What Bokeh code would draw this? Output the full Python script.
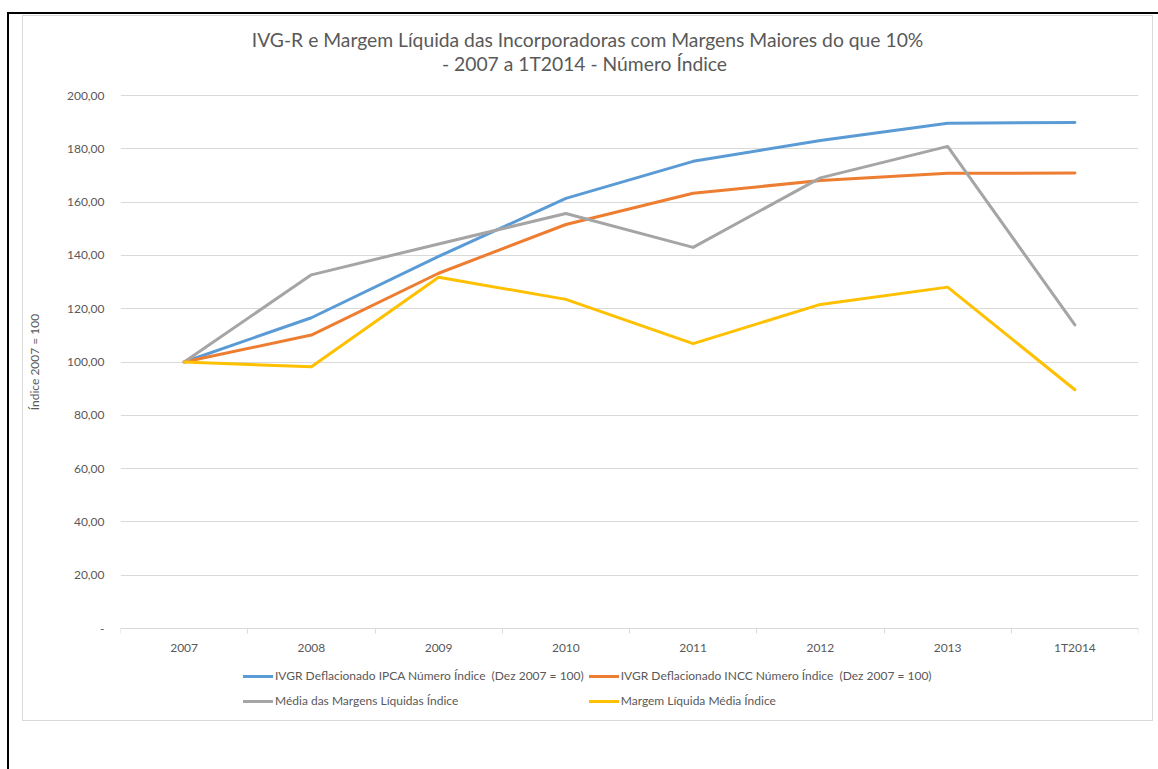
from bokeh.plotting import figure
from bokeh.models import FixedTicker, Legend, LegendItem, Label, InlineStyleSheet
from bokeh.embed import file_html
from bokeh.resources import INLINE

# ---- data ----
categories = ["2007", "2008", "2009", "2010", "2011", "2012", "2013", "1T2014"]
ivgr_ipca = [100.0, 116.6, 139.6, 161.4, 175.3, 183.1, 189.6, 189.9]
ivgr_incc = [100.0, 110.1, 133.3, 151.6, 163.3, 168.1, 170.8, 170.9]
media_margens = [100.0, 132.7, 144.3, 155.7, 143.0, 169.1, 180.9, 113.9]
margem_media = [100.0, 98.2, 131.8, 123.5, 106.9, 121.6, 128.1, 89.6]
series_names = [
    "IVGR Deflacionado IPCA Número Índice  (Dez 2007 = 100)",
    "IVGR Deflacionado INCC Número Índice  (Dez 2007 = 100)",
    "Média das Margens Líquidas Índice",
    "Margem Líquida Média Índice",
]
y_ticks = [0, 20, 40, 60, 80, 100, 120, 140, 160, 180, 200]
y_tick_labels = ["-", "20,00", "40,00", "60,00", "80,00", "100,00", "120,00",
                 "140,00", "160,00", "180,00", "200,00"]
title_lines = ["IVG-R e Margem Líquida das Incorporadoras com Margens Maiores do que  10%",
               "- 2007 a 1T2014 - Número Índice"]
y_axis_title = "Índice 2007 = 100"

colors = ["#5B9BD5", "#ED7D31", "#A5A5A5", "#FFC000"]
FONT = "Lato"
TXT = "#595959"

# ---- layout geometry (pixels) ----
W, H = 1158, 769
PLOT_L, PLOT_R = 120, 1138          # x extent of the value area
VAL_TOP, VAL_BOT = 95, 628          # pixel rows of 200 and 0
FRAME_TOP, FRAME_BOT = 12, 711      # frame extended to hold title and legend
Y_MIN, Y_MAX = 0, 200
ppu = (VAL_BOT - VAL_TOP) / (Y_MAX - Y_MIN)
y_start = Y_MIN - (FRAME_BOT - VAL_BOT) / ppu
y_end = Y_MAX + (VAL_TOP - FRAME_TOP) / ppu

xs = [i + 0.5 for i in range(len(categories))]

p = figure(width=W, height=H, output_backend="svg", toolbar_location=None,
           x_range=(0, len(categories)), y_range=(y_start, y_end),
           min_border_left=PLOT_L, min_border_right=W - PLOT_R,
           min_border_top=FRAME_TOP, min_border_bottom=H - FRAME_BOT)
p.background_fill_alpha = 0
p.border_fill_alpha = 0
p.outline_line_color = None


def line_layer(color, x, y, w, h):
    return f"linear-gradient({color},{color}) {x}px {y}px / {w}px {h}px no-repeat"


GRAY_BOX = "#D9D9D9"
p.styles = {
    "background": ", ".join([
        line_layer("#000", 7, 12, 2, 800),
        line_layer("#000", 7, 12, 1200, 2),
        line_layer(GRAY_BOX, 22, 15, 1, 706),
        line_layer(GRAY_BOX, 1152, 15, 1, 706),
        line_layer(GRAY_BOX, 22, 15, 1131, 1),
        line_layer(GRAY_BOX, 22, 720, 1131, 1),
    ]) + ", #ffffff",
}
p.stylesheets = [InlineStyleSheet(css="text { white-space: pre; }")]

# x axis (drawn at value 0)
p.xaxis.fixed_location = 0
p.xaxis.ticker = FixedTicker(ticks=xs, minor_ticks=list(range(len(categories) + 1)))
p.xaxis.major_label_overrides = {x: c for x, c in zip(xs, categories)}
p.xaxis.axis_line_color = "#D9D9D9"
p.xaxis.major_tick_line_color = None
p.xaxis.major_tick_out = 0
p.xaxis.major_tick_in = 0
p.xaxis.minor_tick_line_color = "#D9D9D9"
p.xaxis.minor_tick_out = 5
p.xaxis.minor_tick_in = 0
p.xaxis.major_label_standoff = 6
p.xaxis.major_label_text_font = FONT
p.xaxis.major_label_text_font_size = "12px"
p.xaxis.major_label_text_color = TXT

# y axis
p.yaxis.ticker = FixedTicker(ticks=y_ticks)
p.yaxis.major_label_overrides = {t: l for t, l in zip(y_ticks, y_tick_labels)}
p.yaxis.axis_line_color = None
p.yaxis.major_tick_line_color = None
p.yaxis.minor_tick_line_color = None
p.yaxis.major_tick_out = 0
p.yaxis.major_tick_in = 0
p.yaxis.major_label_standoff = 16
p.yaxis.major_label_text_font = FONT
p.yaxis.major_label_text_font_size = "12px"
p.yaxis.major_label_text_color = TXT
p.yaxis.axis_label = y_axis_title
p.yaxis.axis_label_standoff = 22
p.yaxis.axis_label_text_font = FONT
p.yaxis.axis_label_text_font_size = "12px"
p.yaxis.axis_label_text_font_style = "normal"
p.yaxis.axis_label_text_color = TXT

p.xgrid.grid_line_color = None
p.ygrid.grid_line_color = "#D9D9D9"
p.ygrid.grid_line_width = 1

renderers = []
for ys, c in zip([ivgr_ipca, ivgr_incc, media_margens, margem_media], colors):
    r = p.line(xs, ys, line_color=c, line_width=3, line_join="round", line_cap="round")
    renderers.append(r)

legend = Legend(items=[LegendItem(label=n, renderers=[r]) for n, r in zip(series_names, renderers)],
                orientation="horizontal", ncols=2, location=(123, 0.5),
                glyph_width=30, glyph_height=20, label_height=20, label_standoff=2,
                spacing=5, padding=0, margin=0, border_line_color=None,
                background_fill_alpha=0, label_text_font=FONT,
                label_text_font_size="12px", label_text_color=TXT)
p.add_layout(legend)

# title: two centred lines (screen units relative to the frame's bottom-left)
for txt, (cx, cy) in zip(title_lines, [(589.5, 39), (584, 63)]):
    p.add_layout(Label(x=cx - PLOT_L, y=FRAME_BOT - cy, x_units="screen", y_units="screen",
                       text=txt, text_align="center", text_baseline="middle",
                       text_font=FONT, text_font_size="19.3px", text_color=TXT))

open("out.html", "w").write(file_html(p, INLINE))
